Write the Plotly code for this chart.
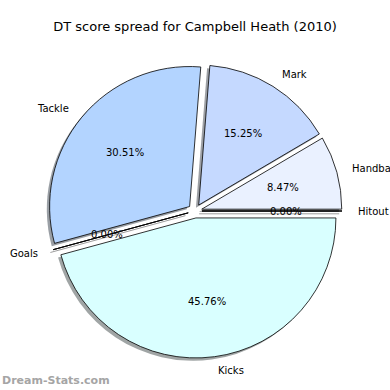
import math
import plotly.graph_objects as go

# ---- data ----
categories = ["Hitout", "Handball", "Mark", "Tackle", "Goals", "Kicks"]
scores = [0, 5, 9, 18, 0, 27]
slice_colors = ["#F2F6FF", "#EAF1FF", "#C5D9FF", "#B3D4FF", "#CCE0FF", "#D9FFFF"]
title_text = "DT score spread for Campbell Heath (2010)"
watermark = "Dream-Stats.com"

# ---- layout constants ----
W = H = 390
CX, CY = 195, 211     # pie centre (px)
R = 140               # radius (px)
EXPLODE = 0.05
SHADOW = 0.02 * R     # shadow offset (px)
FONT = "DejaVu Sans"


def px(x):
    return x / W


def py(y):
    return 1 - y / H


total = sum(scores)
ext = R * (1 + EXPLODE)


def dom(dx=0.0, dy=0.0):
    return dict(x=[px(CX - ext + dx), px(CX + ext + dx)],
                y=[py(CY + ext + dy), py(CY - ext + dy)])


def shadow_col(c):
    r, g, b = int(c[1:3], 16), int(c[3:5], 16), int(c[5:7], 16)
    return "rgba(%d,%d,%d,0.5)" % (0.3 * r, 0.3 * g, 0.3 * b)


fig = go.Figure()
# shadow
fig.add_trace(go.Pie(
    labels=categories, values=scores, sort=False, direction="counterclockwise",
    rotation=90, pull=EXPLODE, textinfo="none", hoverinfo="skip",
    marker=dict(colors=[shadow_col(c) for c in slice_colors], line=dict(width=0)),
    domain=dom(-SHADOW, SHADOW), showlegend=False,
))
# wedges
fig.add_trace(go.Pie(
    labels=categories, values=scores, sort=False, direction="counterclockwise",
    rotation=90, pull=EXPLODE, textinfo="none",
    marker=dict(colors=slice_colors, line=dict(color="black", width=0.8)),
    domain=dom(), showlegend=False,
))

annotations = []
shapes = []
theta = 0.0
for cat, v, col in zip(categories, scores, slice_colors):
    span = 360.0 * v / total
    mid = math.radians(theta + span / 2)
    ca, sa = math.cos(mid), math.sin(mid)
    ox, oy = CX + EXPLODE * R * ca, CY - EXPLODE * R * sa
    lx, ly = ox + 1.1 * R * ca, oy - 1.1 * R * sa
    annotations.append(dict(
        x=px(lx), y=py(ly), xref="paper", yref="paper", text=cat, showarrow=False,
        xanchor="left" if ca > 0 else "right", yanchor="middle",
        font=dict(family=FONT, size=10, color="black")))
    tx, ty = ox + 0.6 * R * ca, oy - 0.6 * R * sa
    annotations.append(dict(
        x=px(tx), y=py(ty), xref="paper", yref="paper",
        text="%.2f%%" % (100.0 * v / total), showarrow=False,
        xanchor="center", yanchor="middle",
        font=dict(family=FONT, size=10, color="black")))
    if v == 0:
        ex, ey = ox + R * ca, oy - R * sa
        shapes.append(dict(type="line", xref="paper", yref="paper",
                           x0=px(ox - SHADOW), y0=py(oy + SHADOW),
                           x1=px(ex - SHADOW), y1=py(ey + SHADOW),
                           line=dict(color="rgba(60,60,60,0.5)", width=1), layer="below"))
        shapes.append(dict(type="line", xref="paper", yref="paper",
                           x0=px(ox), y0=py(oy), x1=px(ex), y1=py(ey),
                           line=dict(color="black", width=0.8)))
    theta += span

annotations.append(dict(
    x=0, y=py(380), xref="paper", yref="paper", text="<b>%s</b>" % watermark,
    showarrow=False, xanchor="left", yanchor="middle",
    font=dict(family=FONT, size=11, color="#a5a5a5")))

fig.update_layout(
    width=W, height=H, margin=dict(l=0, r=0, t=0, b=0),
    paper_bgcolor="white", plot_bgcolor="white",
    title=dict(text=title_text, x=0.5, xanchor="center", y=py(26), yanchor="middle",
               font=dict(family=FONT, size=13, color="black")),
    annotations=annotations, shapes=shapes,
)

fig.write_html(
    "out.html",
    config={"displayModeBar": False},
    post_script="document.body.style.margin='0';document.body.style.overflow='hidden';",
)
